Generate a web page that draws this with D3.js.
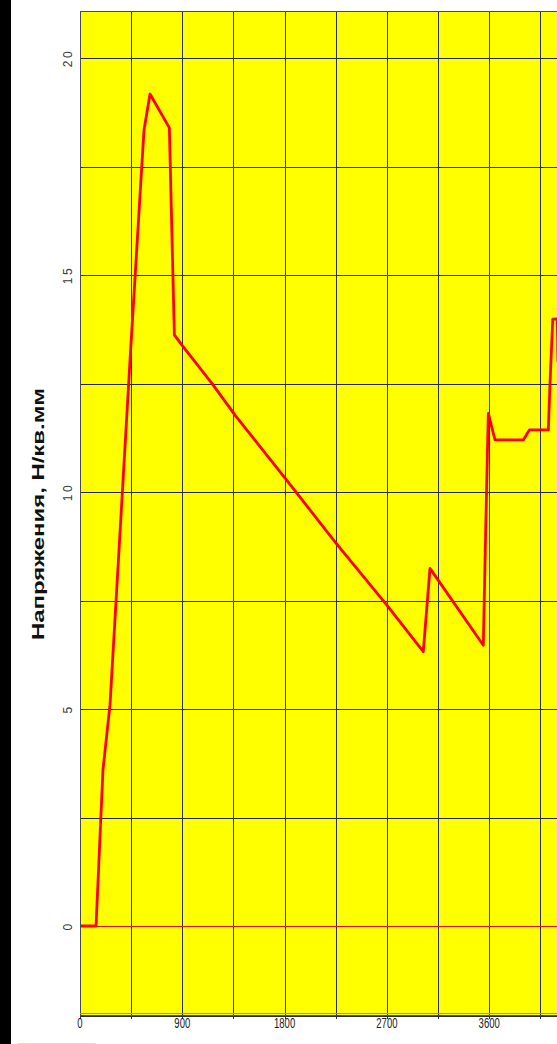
<!DOCTYPE html>
<html>
<head>
<meta charset="utf-8">
<script src="https://cdn.jsdelivr.net/npm/d3@7"></script>
<style>
  body { margin: 0; background: #fff; }
  svg { display: block; }
</style>
</head>
<body>
<div id="chart"></div>
<script>
// Distance (x) and stress (y) points
const distances = [0, 141, 202, 264, 440, 543, 563, 616, 786, 830, 895, 1159, 1364, 1804, 1906, 2243, 2698, 3020, 3079, 3548, 3569, 3592, 3651, 3900, 3953, 4120, 4135, 4159, 4199, 4205];
const stresses  = [0, 0, 3.6, 5.1, 13.04, 17.49, 18.34, 19.17, 18.39, 13.62, 13.39, 12.51, 11.77, 10.32, 9.98, 8.85, 7.4, 6.32, 8.24, 6.47, 9.12, 11.81, 11.2, 11.2, 11.43, 11.43, 12.51, 13.98, 13.99, 13.0];

const xTickLabels = [0, 900, 1800, 2700, 3600];
const xGrid = [450, 900, 1350, 1800, 2250, 2700, 3150, 3600, 4050, 4500];
const yTickLabels = [0, 5, 10, 15, 20];
const yGrid = [2.5, 5, 7.5, 10, 12.5, 15, 17.5, 20];

const W = 557, H = 1044;
const plot = { left: 80, top: 11, bottom: 1015, right: 600 };

const svg = d3.select("#chart").append("svg")
    .attr("width", W)
    .attr("height", H);

// Scales
const x = d3.scaleLinear()
    .domain([0, 900])
    .range([plot.left, plot.left + 102.3]);

const y = d3.scaleLinear()
    .domain([0, 20])
    .range([926, 58]);

// black strip on the left
svg.append("rect")
    .attr("x", 0).attr("y", 0)
    .attr("width", 11).attr("height", H)
    .attr("fill", "#000");

// plot background
svg.append("rect")
    .attr("x", plot.left + 0.5).attr("y", plot.top + 0.5)
    .attr("width", plot.right - plot.left)
    .attr("height", plot.bottom - plot.top)
    .attr("fill", "#ffff00")
    .attr("stroke", "#4a4a4a")
    .attr("stroke-width", 1);

svg.append("clipPath").attr("id", "clip")
    .append("rect")
    .attr("x", plot.left + 1).attr("y", plot.top + 1)
    .attr("width", plot.right - plot.left)
    .attr("height", plot.bottom - plot.top - 1);

const grid = svg.append("g").attr("clip-path", "url(#clip)");

// vertical grid
grid.selectAll(".vgrid")
    .data(xGrid)
    .enter().append("line")
    .attr("class", "vgrid")
    .attr("x1", d => Math.round(x(d)) + 0.5)
    .attr("x2", d => Math.round(x(d)) + 0.5)
    .attr("y1", plot.top)
    .attr("y2", plot.bottom)
    .attr("stroke", "#2e2e5e")
    .attr("stroke-width", 1);

// horizontal grid
grid.selectAll(".hgrid")
    .data(yGrid)
    .enter().append("line")
    .attr("class", "hgrid")
    .attr("x1", plot.left)
    .attr("x2", plot.right)
    .attr("y1", d => Math.round(y(d)) + 0.5)
    .attr("y2", d => Math.round(y(d)) + 0.5)
    .attr("stroke", "#25254f")
    .attr("stroke-width", 1);

// zero line
grid.append("line")
    .attr("x1", plot.left).attr("x2", plot.right)
    .attr("y1", Math.round(y(0)) + 0.5)
    .attr("y2", Math.round(y(0)) + 0.5)
    .attr("stroke", "#e01010")
    .attr("stroke-width", 1);

// bottom axis double line
svg.append("line")
    .attr("x1", plot.left).attr("x2", W)
    .attr("y1", plot.bottom - 1.5).attr("y2", plot.bottom - 1.5)
    .attr("stroke", "#8a8a8a");
svg.append("line")
    .attr("x1", plot.left).attr("x2", W)
    .attr("y1", plot.bottom + 1.5).attr("y2", plot.bottom + 1.5)
    .attr("stroke", "#2a2a5a");

svg.selectAll(".xtick")
    .data([0].concat(xGrid))
    .enter().append("line")
    .attr("class", "xtick")
    .attr("x1", d => Math.round(x(d)) + 0.5)
    .attr("x2", d => Math.round(x(d)) + 0.5)
    .attr("y1", plot.bottom + 1)
    .attr("y2", plot.bottom + 4)
    .attr("stroke", "#2a2a6a");

// x tick labels (narrow, tall digits)
svg.selectAll(".xlabel")
    .data(xTickLabels)
    .enter().append("text")
    .attr("class", "xlabel")
    .attr("x", d => x(d) - (String(d).length * 5.3) / 2)
    .attr("y", 1028)
    .attr("textLength", d => String(d).length * 5.3)
    .attr("lengthAdjust", "spacingAndGlyphs")
    .style("font-family", "'Liberation Sans', Arial, sans-serif")
    .style("font-size", "14px")
    .style("fill", "#222")
    .text(d => d);

// y tick labels (rotated)
svg.selectAll(".ylabel")
    .data(yTickLabels)
    .enter().append("text")
    .attr("class", "ylabel")
    .attr("transform", d => `translate(67.5,${y(d)}) rotate(-90)`)
    .attr("text-anchor", "middle")
    .attr("dominant-baseline", "central")
    .style("font-family", "'Liberation Sans', Arial, sans-serif")
    .style("font-size", "12px")
    .style("letter-spacing", "2.5px")
    .style("fill", "#3a3a3a")
    .text(d => d);

// axis title
svg.append("text")
    .attr("transform", "translate(38,514) rotate(-90)")
    .attr("x", -126)
    .attr("dominant-baseline", "central")
    .attr("textLength", 252)
    .attr("lengthAdjust", "spacingAndGlyphs")
    .style("font-family", "'Liberation Sans', Arial, sans-serif")
    .style("font-size", "16px")
    .style("font-weight", "bold")
    .style("fill", "#111")
    .text("Напряжения, Н/кв.мм");

// stress curve
const line = d3.line()
    .x((d, i) => x(distances[i]))
    .y(d => y(d));

grid.append("path")
    .datum(stresses)
    .attr("d", line)
    .attr("fill", "none")
    .attr("stroke", "#ff0000")
    .attr("stroke-width", 2.8)
    .attr("stroke-linejoin", "round");

// faint edge of a box at the very bottom
svg.append("line")
    .attr("x1", 18).attr("x2", 96)
    .attr("y1", 1043.5).attr("y2", 1043.5)
    .attr("stroke", "#e4e488");
</script>
</body>
</html>
